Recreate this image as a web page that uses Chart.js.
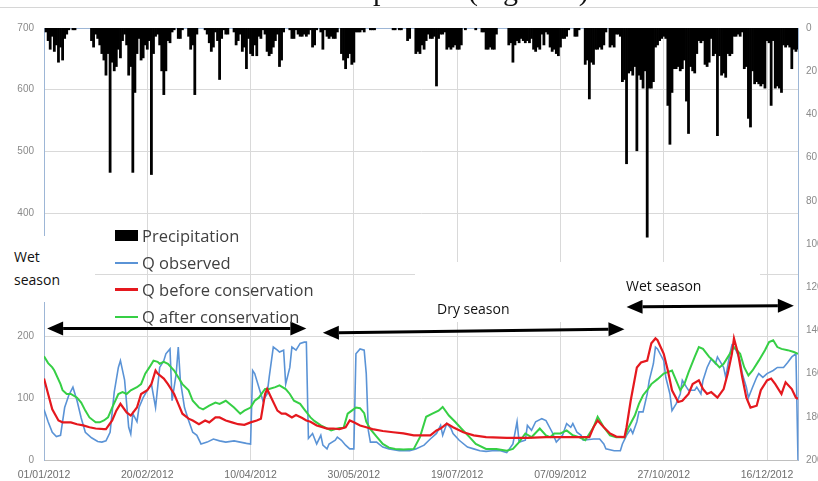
<!DOCTYPE html>
<html>
<head>
<meta charset="utf-8">
<script src="https://cdn.jsdelivr.net/npm/chart.js@4.4.1/dist/chart.umd.min.js"></script>
<style>
  html, body { margin: 0; padding: 0; background: #fff; }
  body { width: 818px; height: 481px; overflow: hidden; position: relative; }
  #chart { position: absolute; left: 0; top: 0; }
  .abs { position: absolute; white-space: nowrap; }
  .caption { font-family: 'Liberation Serif', serif; font-size: 30px; line-height: 30px; color: #111; top: -25px; }
  .rule { left: 0; top: 7px; width: 818px; height: 1px; background: #d6d6d6; }
  .box { background: #fff; }
  .note { font-family: 'Open Sans', sans-serif; font-size: 14px; color: #111; }
  #legend { position: absolute; left: 115px; top: 222px; }
  .row { display: flex; align-items: center; height: 27px; }
  .mark { width: 23px; margin-right: 4px; }
  .label { font-family: 'Open Sans', sans-serif; font-size: 16.5px; color: #404040; }
</style>
</head>
<body>
<canvas id="chart" width="840" height="481"></canvas>

<div class="abs caption" style="left:373px">period</div>
<div class="abs caption" style="left:468px">(Figure 5)</div>
<div class="abs rule"></div>

<div class="abs box" style="left:0;top:236px;width:95px;height:66px"></div>
<div class="abs box" style="left:415px;top:262px;width:186px;height:60px"></div>
<div class="abs box" style="left:601px;top:262px;width:159px;height:38px"></div>

<div class="abs note" style="left:14px;top:245px;line-height:23px">Wet<br>season</div>
<div class="abs note" style="left:437px;top:300px;line-height:18px">Dry season</div>
<div class="abs note" style="left:626px;top:277px;line-height:18px">Wet season</div>

<div id="legend"></div>

<script>
// x tick labels, one every 50 days from 01/01/2012
const tickLabels = ['01/01/2012', '20/02/2012', '10/04/2012', '30/05/2012',
  '19/07/2012', '07/09/2012', '27/10/2012', '16/12/2012'];

// daily precipitation (mm, right axis, hanging from the top), Jan..Dec 2012
const precipitation = [
  // Jan
  0, 2, 6, 10, 4, 11, 8, 16, 9, 15, 5, 3, 1, 0, 1, 1, 0, 0, 0, 0, 0, 0, 0, 6, 9, 3, 5, 8, 12, 15, 22,
  // Feb
  12, 67, 16, 20, 18, 10, 14, 6, 3, 8, 22, 18, 67, 30, 12, 5, 15, 14, 8, 10, 6, 68, 12, 4, 3, 8, 20, 31, 20,
  // Mar
  6, 7, 2, 1, 0, 5, 5, 1, 0, 0, 4, 10, 8, 31, 3, 0, 0, 0, 1, 3, 7, 11, 9, 2, 6, 24, 5, 1, 3, 3, 0,
  // Apr
  0, 2, 8, 6, 3, 11, 9, 19, 5, 12, 13, 8, 13, 4, 5, 1, 3, 11, 13, 12, 9, 6, 3, 18, 15, 2, 0, 0, 1, 5,
  // May
  5, 1, 3, 4, 4, 3, 4, 3, 1, 9, 8, 1, 0, 2, 10, 1, 4, 5, 4, 5, 5, 2, 0, 12, 15, 19, 14, 12, 17, 16, 2,
  // Jun
  2, 2, 1, 2, 0, 0, 1, 1, 1, 0, 0, 0, 0, 0, 0, 0, 0, 1, 1, 0, 1, 1, 0, 0, 6, 5, 0, 0, 12, 11,
  // Jul
  12, 8, 10, 6, 3, 5, 5, 4, 27, 5, 3, 3, 2, 10, 9, 10, 9, 8, 10, 10, 8, 0, 1, 0, 0, 0, 0, 1, 0, 0, 2,
  // Aug
  2, 10, 10, 9, 10, 10, 3, 0, 0, 0, 0, 0, 8, 7, 16, 8, 6, 7, 5, 6, 7, 6, 7, 5, 10, 11, 9, 10, 3, 8, 2,
  // Sep
  3, 9, 11, 10, 12, 13, 9, 5, 5, 4, 1, 0, 0, 4, 4, 1, 0, 0, 17, 15, 33, 16, 17, 10, 10, 9, 10, 8, 2, 0,
  // Oct
  9, 8, 9, 3, 3, 4, 25, 24, 63, 21, 20, 22, 18, 57, 22, 24, 28, 20, 97, 28, 28, 25, 9, 8, 6, 5, 4, 5, 36, 54, 30,
  // Nov
  19, 19, 18, 20, 19, 15, 34, 49, 18, 20, 21, 12, 6, 7, 6, 17, 18, 16, 5, 13, 12, 50, 13, 22, 21, 23, 12, 13, 12, 4,
  // Dec
  4, 3, 4, 2, 19, 18, 42, 46, 20, 26, 25, 26, 27, 26, 28, 6, 7, 36, 6, 28, 27, 28, 30, 8, 9, 8, 9, 19, 10, 11, 10
];

// discharge, [day of year, value]
const qObserved = [
  [0, 82], [2, 62], [4, 45], [6, 38], [8, 40], [10, 85], [12, 105], [14, 118], [16, 96], [18, 68],
  [20, 45], [23, 36], [26, 30], [28, 29], [30, 31], [32, 45], [34, 110], [36, 150], [37, 161], [39, 130],
  [41, 53], [42, 42], [43, 75], [45, 62], [46, 85], [48, 101], [50, 113], [52, 123], [54, 85], [56, 150],
  [58, 161], [59, 172], [61, 180], [62, 96], [64, 140], [65, 183], [66, 129], [68, 85], [70, 64], [72, 45],
  [74, 40], [76, 26], [79, 29], [82, 34], [85, 31], [88, 29], [92, 31], [95, 29], [98, 27], [100, 26],
  [101, 145], [102, 140], [104, 118], [106, 96], [108, 107], [109, 134], [111, 183], [113, 178], [114, 175], [116, 178],
  [117, 123], [119, 150], [120, 183], [122, 178], [124, 189], [126, 191], [127, 191], [128, 35], [130, 43], [132, 26],
  [134, 40], [135, 24], [137, 18], [138, 26], [141, 32], [142, 37], [144, 32], [146, 24], [148, 18], [150, 18],
  [151, 172], [153, 180], [155, 178], [156, 140], [157, 48], [158, 29], [161, 29], [164, 21], [167, 18], [172, 15],
  [177, 15], [180, 18], [184, 24], [187, 34], [190, 43], [192, 56], [193, 40], [195, 59], [197, 51], [198, 43],
  [201, 32], [205, 21], [208, 18], [211, 15], [214, 14], [217, 15], [221, 15], [224, 12], [227, 26], [229, 62],
  [230, 29], [233, 32], [234, 56], [236, 48], [238, 62], [241, 67], [243, 64], [246, 45], [248, 29], [251, 40],
  [253, 59], [255, 53], [256, 59], [258, 45], [260, 40], [261, 32], [266, 34], [269, 34], [271, 26], [272, 18],
  [276, 15], [279, 15], [280, 26], [282, 40], [284, 50], [285, 43], [287, 62], [288, 78], [290, 78], [292, 107],
  [293, 129], [295, 156], [296, 183], [297, 180], [300, 161], [301, 134], [303, 107], [304, 80], [306, 91], [308, 107],
  [309, 129], [311, 118], [312, 113], [315, 113], [316, 118], [318, 107], [319, 129], [321, 150], [323, 164], [325, 156],
  [326, 167], [329, 150], [330, 134], [332, 172], [333, 186], [335, 178], [337, 161], [338, 140], [340, 118], [341, 101],
  [343, 118], [345, 134], [346, 140], [348, 134], [350, 140], [353, 145], [355, 150], [358, 150], [360, 158], [362, 167],
  [364, 172], [365, 0]
];

const qBefore = [
  [0, 132], [2, 107], [4, 82], [7, 64], [9, 61], [13, 61], [16, 58], [19, 56], [22, 53], [25, 51],
  [29, 50], [30, 50], [33, 64], [35, 80], [37, 91], [40, 77], [42, 72], [45, 85], [47, 107], [50, 113],
  [52, 123], [54, 145], [55, 140], [58, 132], [60, 123], [63, 107], [65, 91], [67, 75], [70, 67], [72, 64],
  [75, 58], [78, 64], [80, 61], [83, 69], [85, 69], [88, 64], [91, 61], [94, 58], [97, 57], [100, 61],
  [103, 64], [105, 67], [107, 107], [108, 115], [110, 101], [113, 80], [115, 75], [117, 75], [120, 69], [122, 73],
  [125, 68], [127, 64], [129, 62], [132, 56], [134, 54], [137, 51], [140, 51], [143, 50], [146, 53], [148, 64],
  [150, 61], [153, 56], [156, 53], [159, 50], [164, 47], [169, 45], [174, 43], [179, 40], [187, 40], [190, 48],
  [192, 51], [195, 59], [198, 53], [203, 45], [208, 40], [214, 37], [224, 36], [234, 36], [243, 37], [250, 37],
  [258, 37], [264, 37], [266, 53], [268, 64], [271, 53], [274, 43], [277, 38], [281, 37], [282, 53], [284, 96],
  [287, 150], [289, 158], [292, 161], [294, 189], [296, 197], [297, 194], [300, 172], [302, 145], [304, 113], [307, 94],
  [309, 96], [312, 107], [314, 123], [317, 129], [319, 115], [321, 107], [323, 110], [326, 101], [329, 115], [331, 140],
  [333, 172], [334, 197], [336, 172], [338, 134], [340, 101], [342, 85], [345, 88], [347, 113], [350, 129], [352, 132],
  [354, 123], [357, 107], [359, 126], [362, 115], [364, 101], [365, 99]
];

const qAfter = [
  [0, 168], [2, 157], [4, 150], [5, 145], [8, 123], [9, 113], [11, 107], [13, 107], [16, 101], [18, 93],
  [20, 80], [22, 69], [25, 61], [27, 61], [29, 64], [31, 69], [33, 85], [36, 107], [38, 110], [40, 107],
  [42, 113], [45, 118], [47, 123], [49, 140], [51, 150], [53, 161], [55, 159], [56, 156], [58, 159], [60, 156],
  [63, 145], [65, 134], [67, 123], [70, 113], [72, 96], [75, 85], [77, 82], [80, 88], [83, 93], [85, 91],
  [88, 96], [92, 85], [95, 75], [97, 80], [100, 85], [102, 96], [104, 101], [107, 115], [109, 115], [112, 118],
  [114, 121], [117, 115], [119, 107], [121, 96], [124, 91], [126, 82], [129, 69], [131, 63], [134, 56], [136, 53],
  [139, 48], [141, 50], [143, 52], [145, 52], [147, 75], [149, 80], [151, 85], [153, 84], [155, 76], [156, 62],
  [158, 50], [161, 38], [164, 26], [167, 20], [170, 18], [174, 17], [179, 18], [182, 37], [185, 70], [188, 75],
  [191, 80], [193, 86], [196, 72], [199, 62], [202, 51], [206, 37], [209, 26], [214, 18], [219, 18], [224, 15],
  [227, 18], [230, 29], [233, 43], [236, 37], [240, 51], [243, 40], [245, 37], [247, 43], [250, 43], [253, 48],
  [256, 40], [259, 37], [262, 32], [266, 53], [268, 70], [271, 53], [274, 40], [277, 37], [281, 37], [283, 53],
  [286, 72], [288, 91], [290, 105], [292, 113], [294, 123], [297, 131], [300, 140], [304, 145], [306, 129], [308, 113],
  [310, 123], [312, 142], [315, 167], [317, 183], [319, 180], [322, 167], [324, 161], [327, 150], [329, 156], [332, 172],
  [334, 183], [337, 172], [339, 150], [341, 137], [343, 145], [346, 161], [349, 178], [351, 191], [353, 194], [355, 183],
  [357, 180], [360, 178], [363, 175], [365, 172]
];

// season arrows, in day of year and discharge units
const seasonArrows = [
  { from: 1.5, fromQ: 213, to: 127, toQ: 213 },
  { from: 135, fromQ: 206, to: 281, toQ: 212 },
  { from: 282, fromQ: 248, to: 363, toQ: 250 }
];

const AXIS_FONT = { family: "'Liberation Sans', sans-serif", size: 10 };
const GRID = '#d9d9d9';
const AXIS_LINE = '#9db6d6';

const arrowPlugin = {
  id: 'seasonArrows',
  afterDatasetsDraw(chart) {
    const { ctx, scales } = chart;
    const head = 16;
    const half = 7;
    ctx.save();
    ctx.fillStyle = '#000';
    ctx.strokeStyle = '#000';
    ctx.lineWidth = 3;
    seasonArrows.forEach((a) => {
      const x1 = scales.x.getPixelForValue(a.from);
      const y1 = scales.y.getPixelForValue(a.fromQ);
      const x2 = scales.x.getPixelForValue(a.to);
      const y2 = scales.y.getPixelForValue(a.toQ);
      const ang = Math.atan2(y2 - y1, x2 - x1);
      const c = Math.cos(ang);
      const s = Math.sin(ang);
      ctx.beginPath();
      ctx.moveTo(x1 + c * head, y1 + s * head);
      ctx.lineTo(x2 - c * head, y2 - s * head);
      ctx.stroke();
      [[x1, y1, 1], [x2, y2, -1]].forEach(([px, py, d]) => {
        const bx = px + d * c * head;
        const by = py + d * s * head;
        ctx.beginPath();
        ctx.moveTo(px, py);
        ctx.lineTo(bx - s * half, by + c * half);
        ctx.lineTo(bx + s * half, by - c * half);
        ctx.closePath();
        ctx.fill();
      });
    });
    ctx.restore();
  }
};

const chart = new Chart(document.getElementById('chart'), {
  type: 'bar',
  data: {
    datasets: [
      {
        type: 'bar',
        label: 'Precipitation',
        data: precipitation.map((v, i) => ({ x: i, y: v })),
        yAxisID: 'y2',
        backgroundColor: '#000',
        borderWidth: 0,
        barPercentage: 1.35,
        categoryPercentage: 1,
        grouped: false,
        order: 4
      },
      {
        type: 'line',
        label: 'Q observed',
        data: qObserved,
        yAxisID: 'y',
        borderColor: '#5a93d6',
        borderWidth: 1.6,
        pointRadius: 0,
        tension: 0,
        order: 3
      },
      {
        type: 'line',
        label: 'Q before conservation',
        data: qBefore,
        yAxisID: 'y',
        borderColor: '#e5181e',
        borderWidth: 2.2,
        pointRadius: 0,
        tension: 0,
        order: 1
      },
      {
        type: 'line',
        label: 'Q after conservation',
        data: qAfter,
        yAxisID: 'y',
        borderColor: '#36cf45',
        borderWidth: 2,
        pointRadius: 0,
        tension: 0,
        order: 2
      }
    ]
  },
  options: {
    responsive: false,
    animation: false,
    layout: { padding: { top: 28, left: 0, right: 0, bottom: 0 } },
    plugins: { legend: { display: false }, tooltip: { enabled: false } },
    scales: {
      x: {
        type: 'linear',
        position: 'bottom',
        offset: false,
        min: 0,
        max: 365,
        grid: { color: GRID, drawTicks: false, offset: false },
        border: { color: '#bfbfbf' },
        ticks: {
          stepSize: 50,
          includeBounds: false,
          autoSkip: false,
          maxRotation: 0,
          padding: 9,
          color: '#6e6e6e',
          font: { ...AXIS_FONT, size: 10.5 },
          callback: (value) => tickLabels[value / 50] ?? ''
        },
        afterFit: (scale) => { scale.height = 21; }
      },
      xTop: {
        type: 'linear',
        position: 'top',
        offset: false,
        min: 0,
        max: 365,
        grid: { display: false, drawTicks: false },
        border: { color: AXIS_LINE },
        ticks: { display: false },
        afterFit: (scale) => { scale.height = 0; }
      },
      y: {
        position: 'left',
        min: 0,
        max: 700,
        grid: { color: GRID, drawTicks: false },
        border: { color: AXIS_LINE },
        ticks: { stepSize: 100, padding: 10, color: '#8a8a8a', font: AXIS_FONT },
        afterFit: (scale) => { scale.width = 44; }
      },
      y2: {
        position: 'right',
        min: 0,
        max: 200,
        reverse: true,
        grid: { display: false, drawTicks: false },
        border: { color: AXIS_LINE },
        ticks: { stepSize: 20, padding: 8, color: '#8a8a8a', font: AXIS_FONT },
        afterFit: (scale) => { scale.width = 42; }
      }
    }
  },
  plugins: [arrowPlugin]
});

// legend drawn as html inside the plot, like the original
const legend = document.getElementById('legend');
chart.data.datasets.forEach((ds) => {
  const row = document.createElement('div');
  row.className = 'row';
  const mark = document.createElement('div');
  mark.className = 'mark';
  if (ds.type === 'bar') {
    mark.style.height = '11px';
    mark.style.background = ds.backgroundColor;
  } else {
    mark.style.height = (ds.borderWidth > 2 ? 3 : 2) + 'px';
    mark.style.background = ds.borderColor;
  }
  const text = document.createElement('span');
  text.className = 'label';
  text.textContent = ds.label;
  row.appendChild(mark);
  row.appendChild(text);
  legend.appendChild(row);
});
</script>
</body>
</html>
